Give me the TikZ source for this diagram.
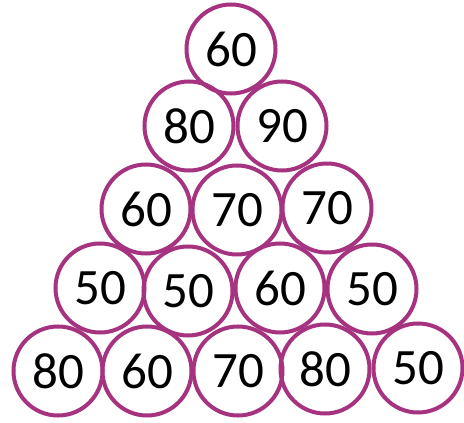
\documentclass[tikz,border=0pt]{standalone}
\usepackage{fontspec}
\setmainfont{Carlito}
\definecolor{RingClr}{rgb}{0.65,0.2,0.5}

\begin{document}
\begin{tikzpicture}[x=1pt,y=-1pt,
  ball/.style={circle,draw=RingClr,line width=4pt,minimum size=89pt,inner sep=0pt,
    font=\fontsize{51}{51}\selectfont}]
\useasboundingbox (0,0) rectangle (464,423);

\node[ball] (r1a) at (231,49) {60};

\node[ball] (r2a) at (189,126) {80};
\node[ball] (r2b) at (282,126) {90};

\node[ball] (r3a) at (146,209) {60};
\node[ball] (r3b) at (237,210) {70};
\node[ball] (r3c) at (327,208) {70};

\node[ball] (r4a) at (100,288) {50};
\node[ball] (r4b) at (188,291) {50};
\node[ball] (r4c) at (280,288) {60};
\node[ball] (r4d) at (372,289) {50};

\node[ball] (r5a) at (58,371) {80};
\node[ball] (r5b) at (147,371) {60};
\node[ball] (r5c) at (238,371) {70};
\node[ball] (r5d) at (325,369) {80};
\node[ball] (r5e) at (418,368) {50};

\end{tikzpicture}
\end{document}
